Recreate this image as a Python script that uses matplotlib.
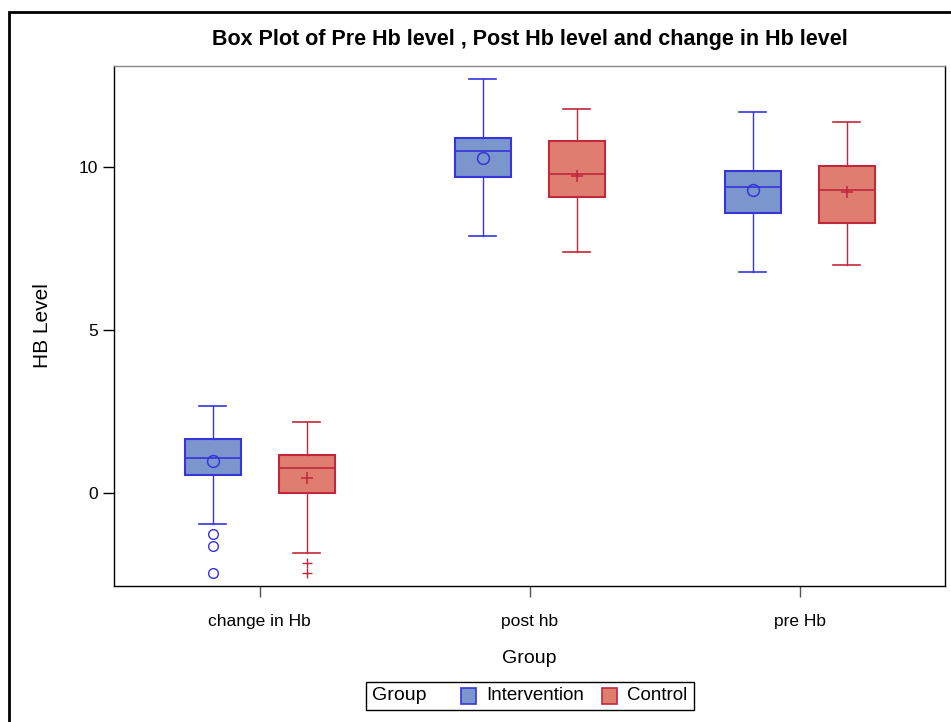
import matplotlib.pyplot as plt
from matplotlib.patches import Rectangle
from matplotlib.offsetbox import AnchoredOffsetbox, HPacker, TextArea, DrawingArea

plt.rcParams["font.family"] = ["Liberation Sans", "DejaVu Sans"]

# valeurs
groups = ["change in Hb", "post hb", "pre Hb"]

int_q1 = [0.57, 9.69, 8.59]
int_med = [1.08, 10.49, 9.39]
int_q3 = [1.66, 10.89, 9.88]
int_lo = [-0.95, 7.88, 6.78]
int_hi = [2.67, 12.70, 11.69]
int_mean = [0.97, 10.28, 9.29]
int_out = [[-1.25, -1.63, -2.45], [], []]

ctl_q1 = [0.0, 9.08, 8.28]
ctl_med = [0.77, 9.79, 9.29]
ctl_q3 = [1.17, 10.80, 10.03]
ctl_lo = [-1.84, 7.39, 6.99]
ctl_hi = [2.18, 11.78, 11.38]
ctl_mean = [0.47, 9.72, 9.23]
ctl_out = [[-2.15, -2.45], [], []]

blue_fill = "#7b95cd"
blue_line = "#3535d8"
red_fill = "#df7d70"
red_line = "#c0283c"


def make_stats(q1, med, q3, lo, hi, mean, out):
    stats = []
    for i in range(len(groups)):
        stats.append({"q1": q1[i], "med": med[i], "q3": q3[i],
                      "whislo": lo[i], "whishi": hi[i],
                      "mean": mean[i], "fliers": out[i]})
    return stats


fig = plt.figure(figsize=(9.51, 7.22), dpi=100)
ax = fig.add_axes([114 / 951, 1 - 586 / 722, (945 - 114) / 951, (586 - 66) / 722])

pos = list(range(len(groups)))
offset = 0.174
width = 0.207

series = [
    (make_stats(int_q1, int_med, int_q3, int_lo, int_hi, int_mean, int_out),
     -offset, blue_fill, blue_line, "o"),
    (make_stats(ctl_q1, ctl_med, ctl_q3, ctl_lo, ctl_hi, ctl_mean, ctl_out),
     offset, red_fill, red_line, "+"),
]

for stats, off, fill, line, mk in series:
    ax.bxp(
        stats,
        positions=[p + off for p in pos],
        widths=width,
        capwidths=0.1,
        patch_artist=True,
        showmeans=True,
        boxprops=dict(facecolor=fill, edgecolor=line, linewidth=1.5),
        medianprops=dict(color=line, linewidth=1.2),
        whiskerprops=dict(color=line, linewidth=1),
        capprops=dict(color=line, linewidth=1.2),
        meanprops=dict(marker=mk, markersize=8.5, markerfacecolor="none",
                       markeredgecolor=line, markeredgewidth=1.1),
        flierprops=dict(marker=mk, markersize=7, markerfacecolor="none",
                        markeredgecolor=line, markeredgewidth=1),
        manage_ticks=False,
    )

ax.set_xlim(-0.54, 2.537)
ax.set_ylim(-2.85, 13.1)
ax.set_xticks(pos)
ax.set_xticklabels(groups)
ax.set_yticks([0, 5, 10])
ax.tick_params(axis="both", direction="out", length=8, width=1, labelsize=12.5)
ax.tick_params(axis="x", colors="#555555", labelcolor="black", pad=12)

for sp in ax.spines.values():
    sp.set_linewidth(1)
ax.spines["top"].set_color("#888888")

ax.set_xlabel("Group", fontsize=14, labelpad=15)
ax.set_ylabel("HB Level", fontsize=15, labelpad=19)
ax.set_title("Box Plot of Pre Hb level , Post Hb level and change in Hb level",
             fontsize=15.5, fontweight="bold", pad=15)

# légende en ligne : Group [■] Intervention [■] Control
def swatch(fill, line):
    da = DrawingArea(12, 12, 0, 0)
    da.add_artist(Rectangle((0.5, 0.5), 11, 11, facecolor=fill, edgecolor=line, linewidth=1.2))
    return da

def gap(w):
    return DrawingArea(w, 1, 0, 0)

items = [
    TextArea("Group", textprops=dict(fontsize=14)),
    gap(24),
    swatch(blue_fill, blue_line),
    gap(7),
    TextArea("Intervention", textprops=dict(fontsize=13.5)),
    gap(12),
    swatch(red_fill, red_line),
    gap(7),
    TextArea("Control", textprops=dict(fontsize=13.5)),
]
box = HPacker(children=items, align="center", pad=0, sep=0)
leg = AnchoredOffsetbox(loc="center", child=box, pad=0.42, borderpad=0,
                        frameon=True, bbox_to_anchor=(530 / 951, 1 - 696 / 722),
                        bbox_transform=fig.transFigure)
leg.patch.set_edgecolor("black")
leg.patch.set_linewidth(1)
leg.patch.set_boxstyle("square", pad=0)
fig.add_artist(leg)

# cadre extérieur
fig.add_artist(Rectangle((9 / 951, -0.2), 1.2, 1.2 - 12 / 722, transform=fig.transFigure,
                         facecolor="none", edgecolor="black", linewidth=2))

fig.savefig("out.png", dpi=100)
